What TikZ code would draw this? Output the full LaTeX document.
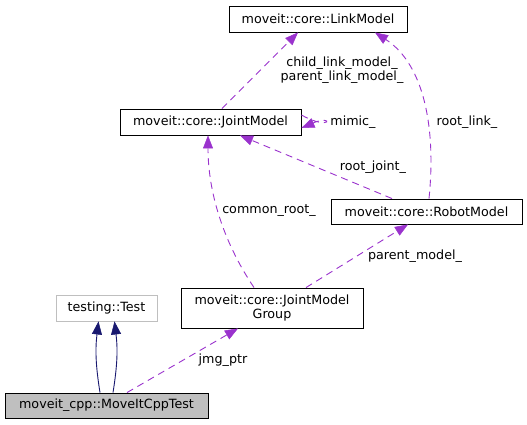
\documentclass[tikz,border=0pt]{standalone}
\usepackage{fontspec}
\setmainfont{DejaVu Sans}
\usetikzlibrary{arrows.meta}
\definecolor{edgepurple}{HTML}{9A32CD}
\definecolor{edgenavy}{HTML}{191970}
\definecolor{boxgray}{HTML}{BFBFBF}
\begin{document}
\begin{tikzpicture}[x=1pt,y=-1pt,
  every node/.style={font=\fontsize{12.7}{14.5}\selectfont},
  cls/.style={draw=black,line width=0.9pt,inner sep=0pt,align=center,fill=white},
  usage/.style={draw=edgepurple,dashed,dash pattern=on 7pt off 5pt,line width=0.9pt,
     -{Triangle[length=13pt,width=10pt,fill=edgepurple,line width=0.5pt]}},
  inherit/.style={draw=edgenavy,line width=0.9pt,
     -{Triangle[length=13pt,width=10pt,fill=edgenavy,line width=0.5pt]}},
  lbl/.style={inner sep=0pt,align=center}]
\useasboundingbox (0,0) rectangle (527,424);
\node[cls,minimum width=178pt,minimum height=26pt] (LM) at (318,19) {moveit::core::LinkModel};
\node[cls,minimum width=181pt,minimum height=26pt] (JM) at (210.5,122) {moveit::core::JointModel};
\node[cls,minimum width=191pt,minimum height=25pt] (RM) at (426.5,211.5) {moveit::core::RobotModel};
\node[cls,minimum width=182pt,minimum height=40pt] (JMG) at (272,308) {moveit::core::JointModel\\Group};
\node[cls,draw=boxgray,minimum width=101pt,minimum height=26pt] (T) at (106.5,308) {testing::Test};
\node[cls,fill=boxgray,minimum width=203pt,minimum height=25pt] (M) at (106.5,405.5) {moveit\_cpp::MoveItCppTest};

% inheritance
\draw[inherit] ([xshift=-6.5pt]M.north) to[bend left=8] ([xshift=-8pt]T.south);
\draw[inherit] ([xshift=6.5pt]M.north) to[bend right=8] ([xshift=8pt]T.south);

% usage
\draw[usage] ([xshift=20.5pt]M.north) -- ([xshift=-34pt]JMG.south);
\node[lbl] (l1) at (223,360) {jmg\_ptr};

\draw[usage] ([xshift=34pt]JMG.north) -- ([xshift=-18.5pt]RM.south);
\node[lbl] (l2) at (415,256) {parent\_model\_};

\draw[usage] ([xshift=-18pt]JMG.north) .. controls (222,240) and (208,190) .. ([xshift=-2.5pt]JM.south);
\node[lbl] (l3) at (269,211) {common\_root\_};

\draw[usage] ([xshift=-34.5pt]RM.north) -- ([xshift=29.5pt]JM.south);
\node[lbl] (l4) at (373,167) {root\_joint\_};

\draw[usage] ([xshift=2.5pt]RM.north) .. controls (436,130) and (425,65) .. ([xshift=57pt]LM.south);
\node[lbl] (l5) at (467,122) {root\_link\_};

\draw[usage] ([xshift=11.5pt]JM.north) -- ([xshift=-20pt]LM.south);
\node[lbl] (l6) at (342,70) {child\_link\_model\_\\parent\_link\_model\_};

\draw[usage] ([yshift=7pt]JM.east) .. controls (332,132) and (334,114) .. ([yshift=-6pt]JM.east);
\node[lbl] (l7) at (353,122) {mimic\_};
\end{tikzpicture}
\end{document}
